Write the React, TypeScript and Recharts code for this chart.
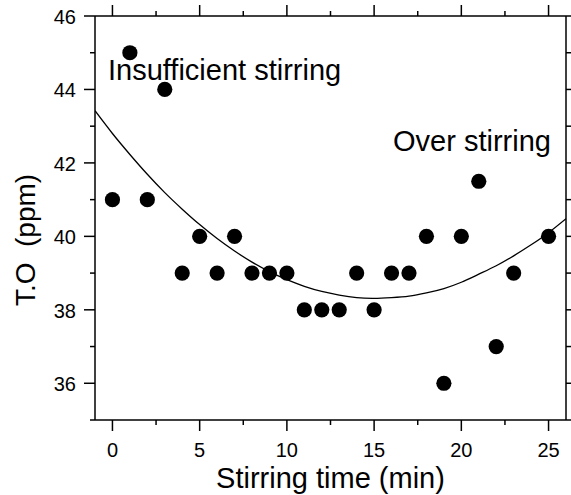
import React from 'react';
import { ComposedChart, Scatter, Line, XAxis, YAxis } from 'recharts';

// Measured points: stirring time (min) and T.O (ppm)
const stirTimes = [0, 1, 2, 3, 4, 5, 6, 7, 8, 9, 10, 11, 12, 13, 14, 15, 16, 17, 18, 19, 20, 21, 22, 23, 25];
const toValues = [41, 45, 41, 44, 39, 40, 39, 40, 39, 39, 39, 38, 38, 38, 39, 38, 39, 39, 40, 36, 40, 41.5, 37, 39, 40];

// Fitted curve
const fitTimes = [-1, 0, 1, 2, 3, 4, 5, 6, 7, 8, 9, 10, 11, 12, 13, 14, 15, 16, 17, 18, 19, 20, 21, 22, 23, 24, 25, 26];
const fitValues = [43.42, 42.8, 42.23, 41.69, 41.19, 40.74, 40.32, 39.94, 39.6, 39.3, 39.04, 38.82, 38.64, 38.5, 38.4, 38.33, 38.31, 38.33, 38.37, 38.46, 38.58, 38.75, 38.97, 39.2, 39.47, 39.77, 40.1, 40.48];

// Axis ticks
const xTicks = [0, 2.5, 5, 7.5, 10, 12.5, 15, 17.5, 20, 22.5, 25];
const xLabels = [0, 5, 10, 15, 20, 25];
const yTicks = [35, 36, 37, 38, 39, 40, 41, 42, 43, 44, 45, 46];
const yLabels = [36, 38, 40, 42, 44, 46];

const xTitle = 'Stirring time (min)';
const yTitle = 'T.O  (ppm)';
const noteLeft = 'Insufficient stirring';
const noteRight = 'Over stirring';

const FONT = '"Liberation Sans", Arial, Helvetica, sans-serif';

const scatterData = stirTimes.map((t, i) => ({ t, v: toValues[i] }));
const fitData = fitTimes.map((t, i) => ({ t, v: fitValues[i] }));

const MAJOR = 11;
const MINOR = 5;

const BottomTick = (props: any) => {
  const { x, y, payload } = props;
  const v = payload.value;
  const labeled = xLabels.includes(v);
  return (
    <g>
      <line x1={x} y1={y} x2={x} y2={y + (labeled ? MAJOR : MINOR)} stroke="#000" strokeWidth={1.5} />
      {labeled && (
        <text x={x} y={y + 37} textAnchor="middle" fontSize={20} fontFamily={FONT} fill="#000">
          {v}
        </text>
      )}
    </g>
  );
};

const TopTick = (props: any) => {
  const { x, y, payload } = props;
  const major = xLabels.includes(payload.value);
  return <line x1={x} y1={y} x2={x} y2={y - (major ? MAJOR : MINOR)} stroke="#000" strokeWidth={1.5} />;
};

const LeftTick = (props: any) => {
  const { x, y, payload } = props;
  const v = payload.value;
  const labeled = yLabels.includes(v);
  return (
    <g>
      <line x1={x} y1={y} x2={x - (labeled ? MAJOR : MINOR)} y2={y} stroke="#000" strokeWidth={1.5} />
      {labeled && (
        <text x={x - 19} y={y + 8} textAnchor="end" fontSize={20} fontFamily={FONT} fill="#000">
          {v}
        </text>
      )}
    </g>
  );
};

const RightTick = (props: any) => {
  const { x, y, payload } = props;
  const major = yLabels.includes(payload.value);
  return <line x1={x} y1={y} x2={x + (major ? MAJOR : MINOR)} y2={y} stroke="#000" strokeWidth={1.5} />;
};

const Dot = (props: any) => <circle cx={props.cx} cy={props.cy} r={7.6} fill="#000" />;

const axisLine = { stroke: '#000', strokeWidth: 1.5 };

export default function App() {
  return (
    <div style={{ position: 'absolute', left: 0, top: 0, background: '#fff' }}>
      <ComposedChart width={571} height={495} margin={{ top: 0, right: 0, bottom: 0, left: 0 }}>
        <XAxis
          xAxisId="b"
          dataKey="t"
          type="number"
          domain={[-1, 26]}
          ticks={xTicks}
          interval={0}
          orientation="bottom"
          height={75}
          tickSize={0}
          tickMargin={0}
          tickLine={false}
          axisLine={axisLine}
          tick={<BottomTick />}
          allowDataOverflow
        />
        <XAxis
          xAxisId="t"
          dataKey="t"
          type="number"
          domain={[-1, 26]}
          ticks={xTicks}
          interval={0}
          orientation="top"
          height={16}
          tickSize={0}
          tickMargin={0}
          tickLine={false}
          axisLine={axisLine}
          tick={<TopTick />}
          allowDataOverflow
        />
        <YAxis
          yAxisId="l"
          dataKey="v"
          type="number"
          domain={[35, 46]}
          ticks={yTicks}
          interval={0}
          orientation="left"
          width={95}
          tickSize={0}
          tickMargin={0}
          tickLine={false}
          axisLine={axisLine}
          tick={<LeftTick />}
          allowDataOverflow
        />
        <YAxis
          yAxisId="r"
          dataKey="v"
          type="number"
          domain={[35, 46]}
          ticks={yTicks}
          interval={0}
          orientation="right"
          width={5}
          tickSize={0}
          tickMargin={0}
          tickLine={false}
          axisLine={axisLine}
          tick={<RightTick />}
          allowDataOverflow
        />
        <Line
          xAxisId="b"
          yAxisId="l"
          data={fitData}
          dataKey="v"
          type="natural"
          stroke="#000"
          strokeWidth={1.3}
          dot={false}
          activeDot={false}
          isAnimationActive={false}
        />
        <Scatter
          xAxisId="b"
          yAxisId="l"
          data={scatterData}
          dataKey="v"
          fill="#000"
          shape={<Dot />}
          isAnimationActive={false}
        />
        <text x={108} y={80} fontSize={29} fontFamily={FONT} fill="#000">{noteLeft}</text>
        <text x={393} y={151} fontSize={29} fontFamily={FONT} fill="#000">{noteRight}</text>
        <text x={330.5} y={488} textAnchor="middle" fontSize={29} fontFamily={FONT} fill="#000">{xTitle}</text>
        <text
          x={35}
          y={240}
          textAnchor="middle"
          fontSize={28}
          fontFamily={FONT}
          fill="#000"
          style={{ whiteSpace: 'pre' }}
          transform="rotate(-90 35 240)"
        >
          {yTitle}
        </text>
      </ComposedChart>
    </div>
  );
}
